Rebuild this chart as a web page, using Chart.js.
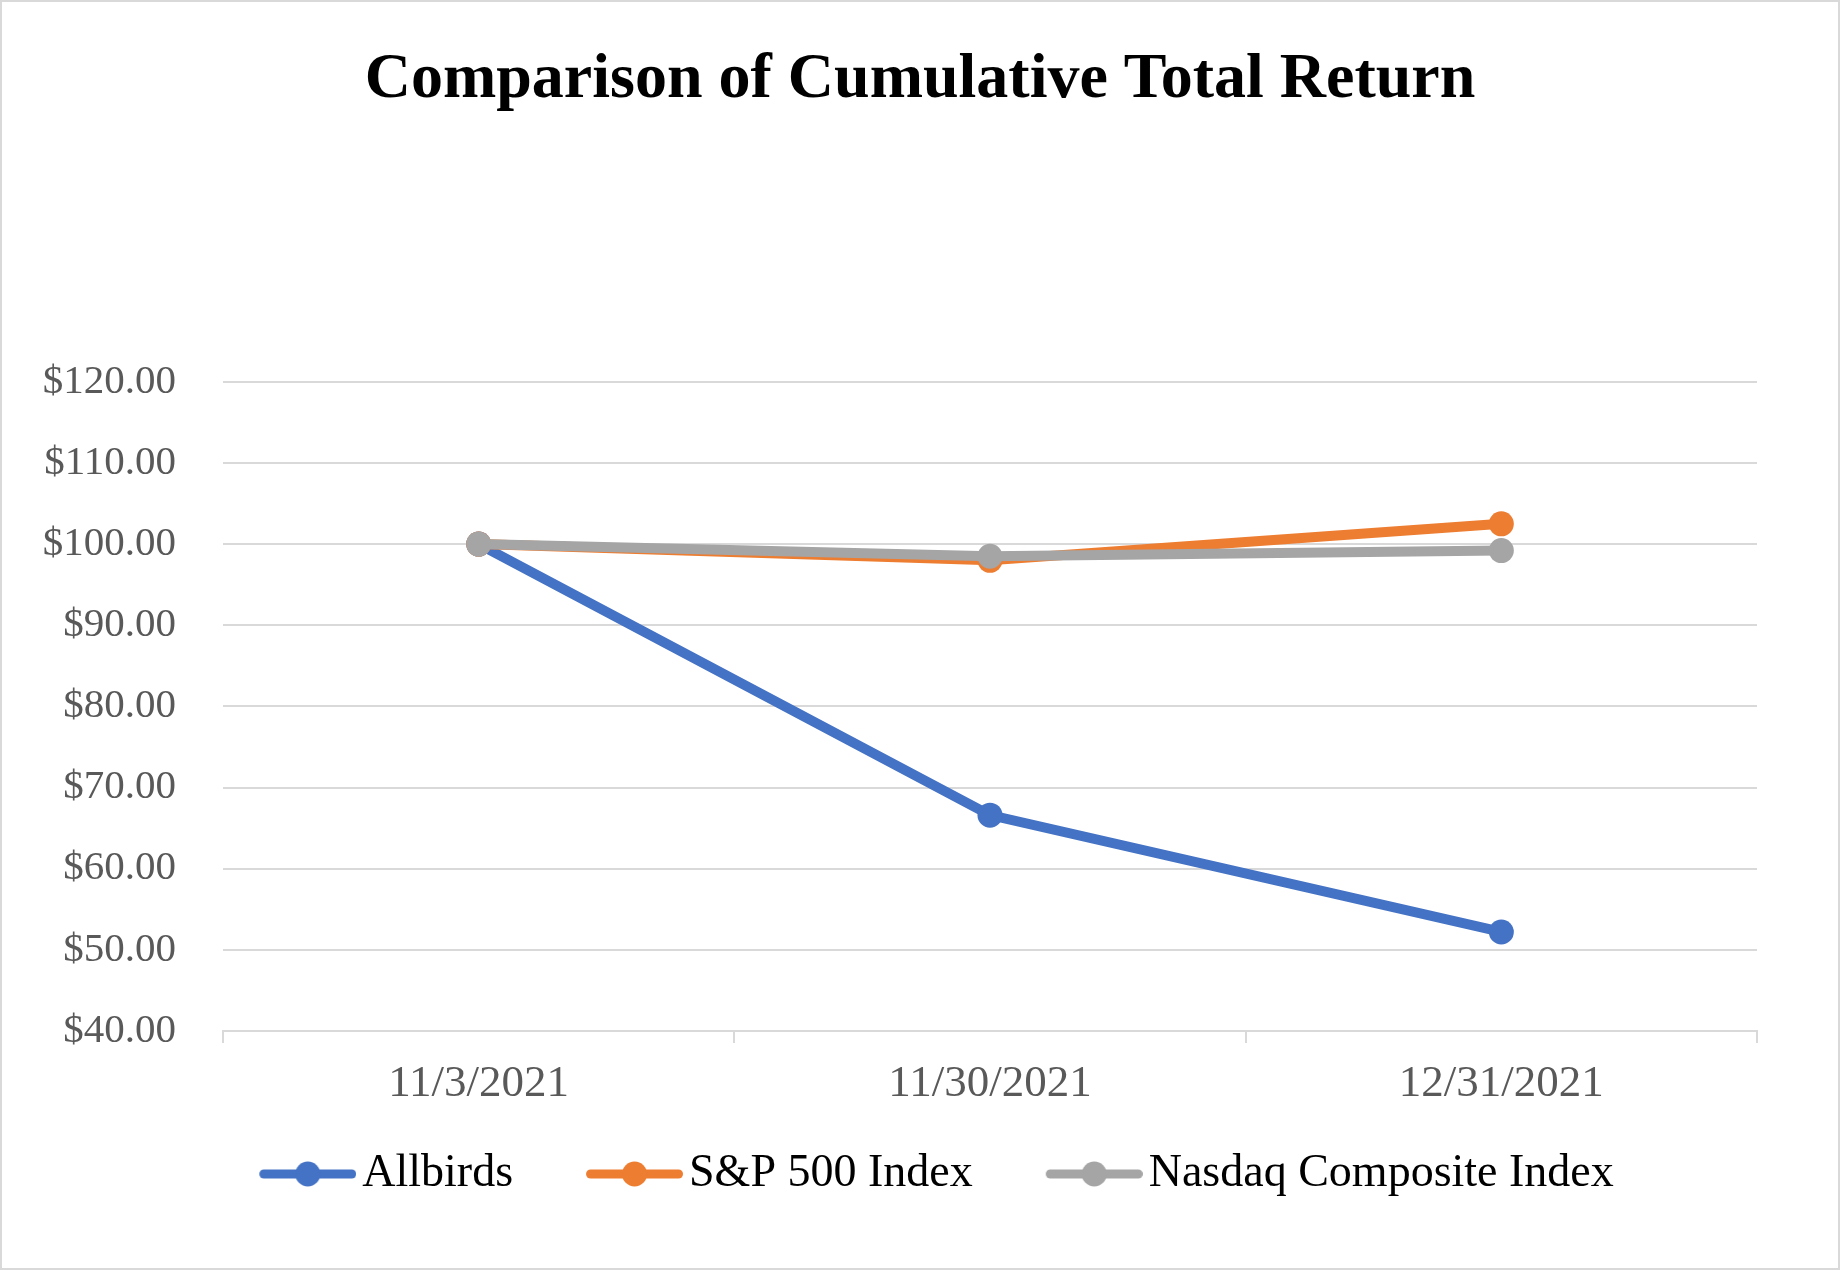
<!DOCTYPE html>
<html>
<head>
<meta charset="utf-8">
<script src="https://cdn.jsdelivr.net/npm/chart.js@4.4.1/dist/chart.umd.min.js"></script>
<style>
html,body{margin:0;padding:0;background:#fff}
#wrap{width:1836px;height:1266px;border:2px solid #d9d9d9;position:relative}
</style>
</head>
<body>
<div id="wrap"><canvas id="chartReturnHTML" width="1836" height="1266"></canvas></div>
<script>
const dates=['11/3/2021','11/30/2021','12/31/2021']
const allbirds=[100,66.6,52.2]
const sp500=[100,98.0,102.5]
const nasdaq=[100,98.5,99.2]
const yTicks=[40,120,10]

// excel style legend mark: line with a dot, offset so text sits close
function legendMark(colour){
 const c=document.createElement('canvas')
 c.width=114;c.height=28
 const g=c.getContext('2d')
 g.strokeStyle=colour;g.lineWidth=9;g.lineCap='round'
 g.beginPath();g.moveTo(21.5,14);g.lineTo(109.5,14);g.stroke()
 g.fillStyle=colour;g.beginPath();g.arc(65.5,14,12.5,0,Math.PI*2);g.fill()
 return c
}

function mkSet(label,data,colour,order){
 return {label:label,data:data,borderColor:colour,backgroundColor:colour,order:order,
  borderWidth:10,pointRadius:12.5,pointHoverRadius:12.5,pointBorderWidth:0,
  pointBackgroundColor:colour,tension:0,legendMark:legendMark(colour)}
}

// title centred on the whole picture, legend nudged like the original
const placeBlocks={id:'placeBlocks',afterLayout(ch){
 if(ch.titleBlock){ch.titleBlock.left=0;ch.titleBlock.right=ch.width}
 const lg=ch.legend
 if(lg){lg.left+=57;lg.right+=57;lg.top-=47;lg.bottom-=47}
}}

chartReturn=new Chart(
 document.getElementById('chartReturnHTML'),
 {
  type:'line',
  data:{
   labels:dates,
   datasets:[
    mkSet('Allbirds',allbirds,'#4472c4',3),
    mkSet('S&P 500 Index',sp500,'#ed7d31',2),
    mkSet('Nasdaq Composite Index',nasdaq,'#a5a5a5',1)
   ]
  },
  options:{
   responsive:false,
   animation:false,
   layout:{padding:{left:0,right:81,top:30,bottom:14}},
   scales:{
    x:{offset:true,
     grid:{offset:true,drawOnChartArea:false,drawTicks:true,tickLength:12,color:'#d9d9d9',lineWidth:2},
     border:{color:'#d9d9d9',width:2},
     ticks:{color:'#595959',padding:14,font:{family:'Liberation Serif',size:45}}},
    y:{min:yTicks[0],max:yTicks[1],
     afterFit:s=>{s.width=221},
     grid:{color:'#d9d9d9',lineWidth:2,drawTicks:false},
     border:{display:false},
     ticks:{stepSize:yTicks[2],color:'#595959',padding:47,font:{family:'Liberation Serif',size:41},
      callback:v=>'$'+v.toFixed(2)}}
   },
   plugins:{
    title:{display:true,text:'Comparison of Cumulative Total Return',color:'#000',
     font:{family:'Liberation Serif',size:64,weight:'bold'},padding:{top:10,bottom:263}},
    legend:{position:'bottom',
     labels:{color:'#000',font:{family:'Liberation Serif',size:46},usePointStyle:true,pointStyleWidth:80,padding:73,
      generateLabels:ch=>ch.data.datasets.map((d,i)=>({text:d.label,pointStyle:d.legendMark,
       fillStyle:d.borderColor,strokeStyle:d.borderColor,lineWidth:0,datasetIndex:i,fontColor:'#000'}))}},
    tooltip:{enabled:false}
   }
  },
  plugins:[placeBlocks]
 }
)
</script>
</body>
</html>
